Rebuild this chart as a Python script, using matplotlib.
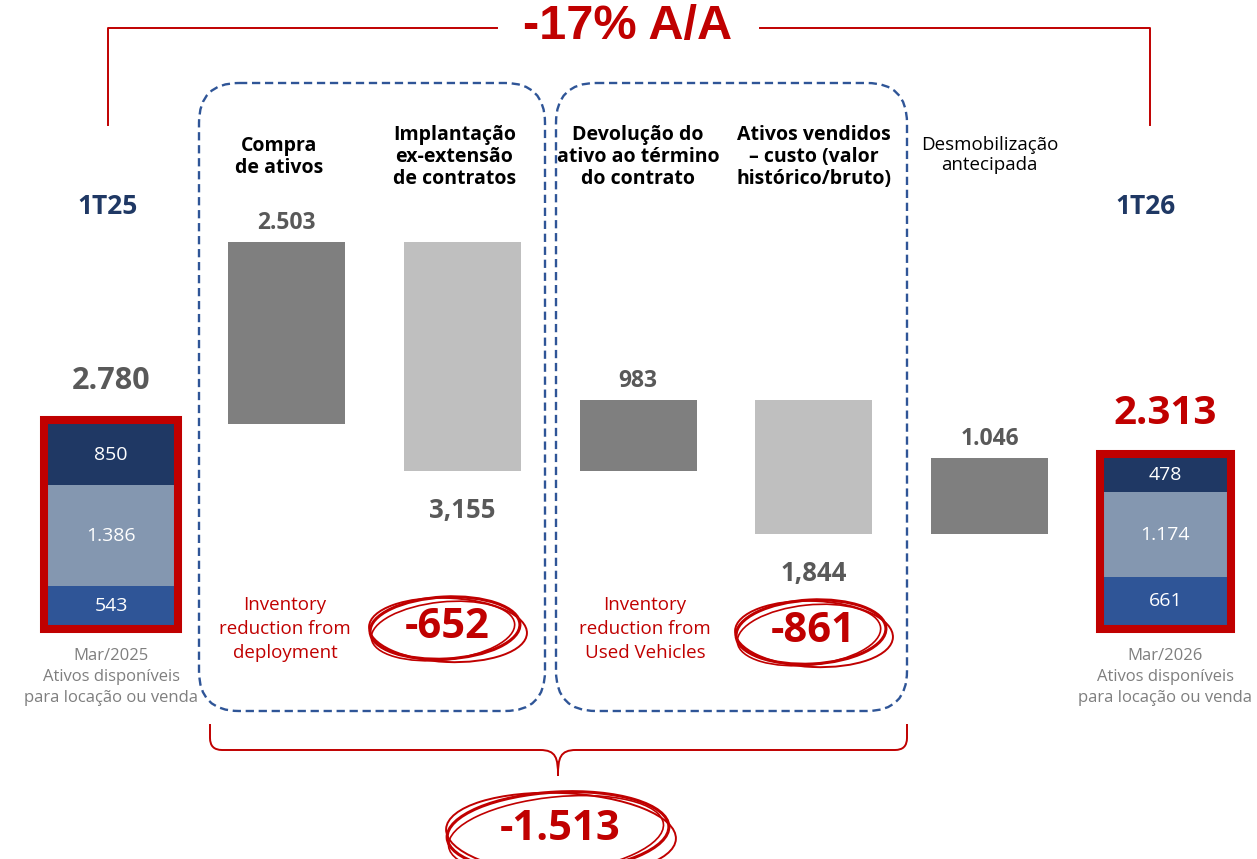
import matplotlib.pyplot as plt
from matplotlib.patches import FancyBboxPatch, Ellipse, PathPatch
from matplotlib.path import Path

plt.rcParams['font.family'] = ['Open Sans', 'DejaVu Sans']

# assets available for rent or sale, split bottom to top
start_parts = [543, 1386, 850]
start_part_labels = ['543', '1.386', '850']
end_parts = [661, 1174, 478]
end_part_labels = ['661', '1.174', '478']
part_colors = ['#2F5597', '#8497B0', '#1F3864']
start_label = '2.780'
end_label = '2.313'
period_labels = ['1T25', '1T26']
captions = ['Mar/2025\nAtivos disponíveis\npara locação ou venda',
            'Mar/2026\nAtivos disponíveis\npara locação ou venda']

# movements between the two dates
steps = ['Compra\nde ativos',
         'Implantação\nex-extensão\nde contratos',
         'Devolução do\nativo ao término\ndo contrato',
         'Ativos vendidos\n– custo (valor\nhistórico/bruto)',
         'Desmobilização\nantecipada']
step_values = [2503, -3155, 983, -1844, 1046]
step_labels = ['2.503', '3,155', '983', '1,844', '1.046']
step_colors = ['#7F7F7F', '#BFBFBF', '#7F7F7F', '#BFBFBF', '#7F7F7F']
step_bold = [True, True, True, True, False]

# group results
group_notes = ['Inventory\nreduction from\ndeployment',
               'Inventory\nreduction from\nUsed Vehicles']
group_values = ['-652', '-861']
total_value = '-1.513'
yoy = '-17% A/A'

RED = '#C00000'
GREY = '#595959'
NAVY = '#1F3864'
W, H = 1257, 859

fig = plt.figure(figsize=(W / 100, H / 100), dpi=100)
ax = fig.add_axes([0, 0, 1, 1])
ax.set_xlim(-0.632, 6.522)
ax.set_ylim(-3220, 8620)
ax.axis('off')


def stacked(x, parts, labels, width):
    bottom = 0
    for v, lab, c in zip(parts, labels, part_colors):
        ax.bar(x, v, bottom=bottom, width=width, color=c, zorder=2)
        ax.text(x, bottom + v / 2, lab, ha='center', va='center',
                color='white', fontsize=14, zorder=4)
        bottom += v
    # thick red frame just outside the stack
    ax.bar(x, bottom + 110, bottom=-55, width=width + 0.046, fill=False,
           edgecolor=RED, linewidth=5.8, zorder=3)
    return bottom


x_end = len(steps) + 1
total_start = stacked(0, start_parts, start_part_labels, 0.72)
total_end = stacked(x_end, end_parts, end_part_labels, 0.70)

ax.annotate(start_label, (0, total_start), xytext=(0, 20), textcoords='offset points',
            ha='center', va='bottom', fontsize=22, fontweight='bold', color=GREY)
ax.annotate(end_label, (x_end, total_end), xytext=(0, 18), textcoords='offset points',
            ha='center', va='bottom', fontsize=29, fontweight='bold', color=RED)

for x, cap in zip([0, x_end], captions):
    ax.annotate(cap, (x, 0), xytext=(0, -16), textcoords='offset points',
                ha='center', va='top', fontsize=12, color='#7F7F7F', linespacing=1.45)

# waterfall steps
level = total_start
for i, (v, lab, c) in enumerate(zip(step_values, step_labels, step_colors)):
    x = i + 1
    bottom = level if v > 0 else level + v
    ax.bar(x, abs(v), bottom=bottom, width=0.666, color=c, zorder=2)
    if v > 0:
        ax.annotate(lab, (x, bottom + v), xytext=(0, 5), textcoords='offset points',
                    ha='center', va='bottom', fontsize=16.5, fontweight='bold', color=GREY)
    else:
        ax.annotate(lab, (x, bottom), xytext=(0, -19), textcoords='offset points',
                    ha='center', va='top', fontsize=18.5, fontweight='bold', color=GREY)
    level += v

# overlay in pixel units for the decorations
ov = fig.add_axes([0, 0, 1, 1])
ov.set_xlim(0, W)
ov.set_ylim(H, 0)
ov.axis('off')

for i, head in enumerate(steps):
    xp = ax.transData.transform((i + 1, 0))[0]
    ov.text(xp - (8 if i < 2 else 0), 157 if step_bold[i] else 155, head,
            ha='center', va='center', fontsize=14 if step_bold[i] else 13.5,
            fontweight='bold' if step_bold[i] else 'normal', color='black',
            linespacing=1.12 if step_bold[i] else 1.2)

for xp, lab in zip([108, 1146], period_labels):
    ov.text(xp, 207, lab, ha='center', va='center', fontsize=19,
            fontweight='bold', color=NAVY)

# dashed groups
for x0, x1 in [(199, 545), (556, 907)]:
    ov.add_patch(FancyBboxPatch((x0, 83), x1 - x0, 711 - 83,
                                boxstyle='round,pad=0,rounding_size=40', fill=False,
                                edgecolor='#2F5597', lw=1.7, linestyle=(0, (3.5, 2))))

# top bracket with yoy change
ov.plot([108, 108, 497], [125, 28, 28], color=RED, lw=1.4)
ov.plot([760, 1150, 1150], [28, 28, 125], color=RED, lw=1.4)
ov.text(628, 27, yoy, ha='center', va='center', fontsize=35, fontweight='bold',
        color=RED, family=['Liberation Sans', 'DejaVu Sans'])

# curly brace under both groups
verts = [(210, 724), (210, 738), (210, 750), (222, 750), (540, 750),
         (556, 750), (558, 758), (558, 776),
         (558, 758), (560, 750), (576, 750), (895, 750),
         (907, 750), (907, 738), (907, 724)]
codes = [Path.MOVETO, Path.LINETO, Path.CURVE3, Path.CURVE3, Path.LINETO,
         Path.CURVE4, Path.CURVE4, Path.CURVE4,
         Path.CURVE4, Path.CURVE4, Path.CURVE4, Path.LINETO,
         Path.CURVE3, Path.CURVE3, Path.LINETO]
ov.add_patch(PathPatch(Path(verts, codes), fill=False, edgecolor=RED, lw=1.4))


def scribble(cx, cy, w, h):
    # a few loose loops to look hand drawn
    for dw, dh, ang, dx, dy, lw in [(0, 0, -3, 0, 0, 2.2), (8, 2, 2.5, 3, 2, 1.4),
                                    (-6, -4, -6, -2, 3, 1.2)]:
        ov.add_patch(Ellipse((cx + dx, cy + dy), w + dw, h + dh, angle=ang,
                             fill=False, edgecolor=RED, lw=lw))


for xp, note, val, ell in zip([285, 645], group_notes, group_values,
                              [(445, 628, 150, 62), (811, 632, 150, 64)]):
    ov.text(xp, 629, note, ha='center', va='center', fontsize=13.5, color=RED,
            linespacing=1.42)
    scribble(*ell)
    ov.text(ell[0] + 2, ell[1], val, ha='center', va='center', fontsize=30,
            fontweight='bold', color=RED)

scribble(558, 832, 222, 80)
ov.text(560, 830, total_value, ha='center', va='center', fontsize=30,
        fontweight='bold', color=RED)

fig.savefig('out.png', dpi=100)
